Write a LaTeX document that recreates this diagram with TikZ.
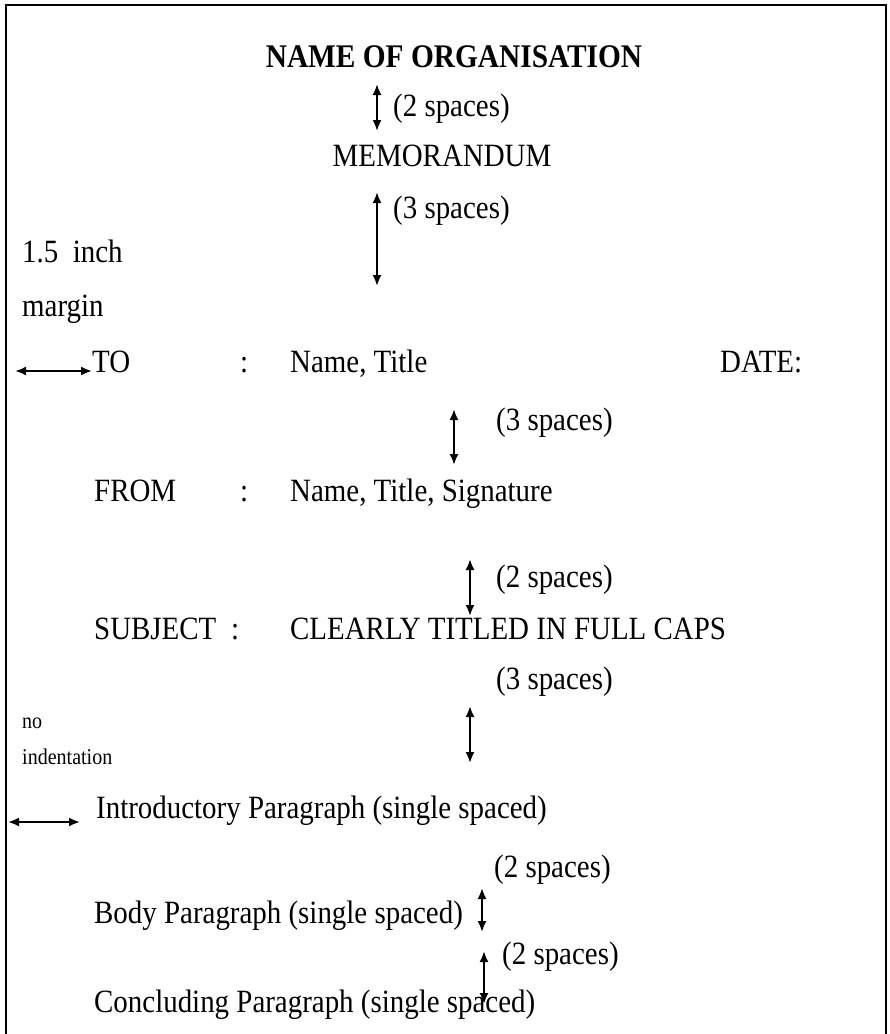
\documentclass[tikz,border=0pt]{standalone}
\usepackage{fontspec}
\setmainfont{Liberation Serif}[FakeStretch=0.89]
\usetikzlibrary{arrows.meta}
\tikzset{
  txt/.style={anchor=base west, inner sep=0pt, font=\fontsize{32.5bp}{38bp}\selectfont},
  ctxt/.style={txt, anchor=base},
  smalltxt/.style={anchor=base west, inner sep=0pt, font=\fontsize{22.5bp}{26bp}\selectfont},
  dim/.style={line width=2bp, {Latex[length=11bp,width=9bp]}-{Latex[length=11bp,width=9bp]}},
  frame/.style={line width=2.6bp},
}
\begin{document}
\begin{tikzpicture}[x=1bp,y=-1bp]
\useasboundingbox (0,0) rectangle (890,1034);
\draw[frame] (6,1040) -- (6,5) -- (886,5) -- (886,1040);

\node[ctxt, font=\fontsize{33bp}{38bp}\selectfont\bfseries] (title) at (454,67) {NAME OF ORGANISATION};
\node[txt] (sp1) at (393,116) {(2 spaces)};
\node[ctxt] (memo) at (442,166) {MEMORANDUM};
\node[txt] (sp2) at (393,218) {(3 spaces)};
\node[txt] (inch) at (22,262) {1.5\ \ inch};
\node[txt] (margin) at (22,316) {margin};

\node[txt] (to) at (92,372) {TO};
\node[txt] (toc) at (240,372) {:};
\node[txt] (toname) at (290,372) {Name, Title};
\node[txt] (date) at (720,372) {DATE:};
\node[txt] (sp3) at (496,430) {(3 spaces)};

\node[txt] (from) at (94,501) {FROM};
\node[txt] (fromc) at (240,501) {:};
\node[txt] (fromname) at (290,501) {Name, Title, Signature};
\node[txt] (sp4) at (496,587) {(2 spaces)};

\node[txt] (subj) at (94,639) {SUBJECT};
\node[txt] (subjc) at (231,639) {:};
\node[txt] (subjtext) at (290,639) {CLEARLY TITLED IN FULL CAPS};
\node[txt] (sp5) at (496,689) {(3 spaces)};

\node[smalltxt] (no) at (22,728) {no};
\node[smalltxt] (indent) at (22,764) {indentation};

\node[txt] (intro) at (96,818) {Introductory Paragraph (single spaced)};
\node[txt] (sp6) at (494,877) {(2 spaces)};
\node[txt] (body) at (94,923) {Body Paragraph (single spaced)};
\node[txt] (sp7) at (502,964) {(2 spaces)};
\node[txt] (concl) at (94,1012) {Concluding Paragraph (single spaced)};

\coordinate (a1s) at (377,84);  \coordinate (a1e) at (377,131);
\coordinate (a2s) at (377,192); \coordinate (a2e) at (377,286);
\coordinate (h1s) at (15,371);  \coordinate (h1e) at (92,371);
\coordinate (a3s) at (454,409); \coordinate (a3e) at (454,465);
\coordinate (a4s) at (470,559); \coordinate (a4e) at (470,616);
\coordinate (a5s) at (470,706); \coordinate (a5e) at (470,763);
\coordinate (h2s) at (8,822);   \coordinate (h2e) at (80,822);
\coordinate (a6s) at (482,888); \coordinate (a6e) at (482,932);
\coordinate (a7s) at (484,951); \coordinate (a7e) at (484,1004);

\draw[dim] (a1s) -- (a1e);
\draw[dim] (a2s) -- (a2e);
\draw[dim] (h1s) -- (h1e);
\draw[dim] (a3s) -- (a3e);
\draw[dim] (a4s) -- (a4e);
\draw[dim] (a5s) -- (a5e);
\draw[dim] (h2s) -- (h2e);
\draw[dim] (a6s) -- (a6e);
\draw[dim] (a7s) -- (a7e);
\end{tikzpicture}
\end{document}
